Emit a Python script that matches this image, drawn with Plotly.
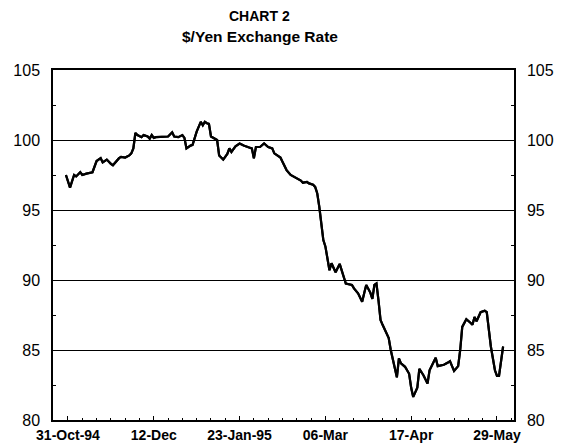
import plotly.graph_objects as go

dates = [
    "1994-10-30", "1994-11-01", "1994-11-03", "1994-11-04", "1994-11-06", "1994-11-07",
    "1994-11-09", "1994-11-12", "1994-11-14", "1994-11-16", "1994-11-17", "1994-11-19",
    "1994-11-21", "1994-11-22", "1994-11-25", "1994-11-26", "1994-11-28", "1994-11-30",
    "1994-12-01", "1994-12-02", "1994-12-03", "1994-12-04", "1994-12-06", "1994-12-07",
    "1994-12-09", "1994-12-10", "1994-12-11", "1994-12-12", "1994-12-13", "1994-12-17",
    "1994-12-19", "1994-12-21", "1994-12-22", "1994-12-24", "1994-12-26", "1994-12-27",
    "1994-12-28", "1994-12-30", "1994-12-31", "1995-01-02", "1995-01-04", "1995-01-05",
    "1995-01-06", "1995-01-07", "1995-01-08", "1995-01-09", "1995-01-11", "1995-01-12",
    "1995-01-13", "1995-01-15", "1995-01-17", "1995-01-18", "1995-01-19", "1995-01-21",
    "1995-01-23", "1995-01-25", "1995-01-28", "1995-01-29", "1995-01-30", "1995-01-31",
    "1995-02-02", "1995-02-04", "1995-02-06", "1995-02-08", "1995-02-09", "1995-02-12",
    "1995-02-13", "1995-02-15", "1995-02-17", "1995-02-19", "1995-02-22", "1995-02-23",
    "1995-02-25", "1995-02-26", "1995-02-28", "1995-03-01", "1995-03-02", "1995-03-03",
    "1995-03-04", "1995-03-05", "1995-03-06", "1995-03-07", "1995-03-08", "1995-03-09",
    "1995-03-11", "1995-03-13", "1995-03-15", "1995-03-16", "1995-03-19", "1995-03-20",
    "1995-03-22", "1995-03-24", "1995-03-25", "1995-03-26", "1995-03-28", "1995-03-29",
    "1995-03-30", "1995-03-31", "1995-04-01", "1995-04-02", "1995-04-03", "1995-04-04",
    "1995-04-05", "1995-04-06", "1995-04-07", "1995-04-09", "1995-04-10", "1995-04-11",
    "1995-04-12", "1995-04-14", "1995-04-16", "1995-04-17", "1995-04-18", "1995-04-20",
    "1995-04-21", "1995-04-23", "1995-04-25", "1995-04-26", "1995-04-28", "1995-04-29",
    "1995-04-30", "1995-05-03", "1995-05-05", "1995-05-06", "1995-05-07", "1995-05-08",
    "1995-05-10", "1995-05-11", "1995-05-12", "1995-05-14", "1995-05-16", "1995-05-17",
    "1995-05-18", "1995-05-19", "1995-05-21", "1995-05-23", "1995-05-24", "1995-05-25",
    "1995-05-26", "1995-05-28", "1995-05-29", "1995-05-30", "1995-05-31", "1995-06-01",
]

rates = [
    97.5, 96.6, 97.5, 97.4, 97.7, 97.5,
    97.6, 97.7, 98.5, 98.7, 98.4, 98.6,
    98.3, 98.2, 98.7, 98.8, 98.75, 98.9,
    99.05, 99.4, 100.5, 100.35, 100.2, 100.35,
    100.25, 100.1, 100.35, 100.15, 100.2, 100.2,
    100.25, 100.55, 100.25, 100.2, 100.35, 100.15,
    99.4, 99.6, 99.65, 100.6, 101.3, 101.05,
    101.3, 101.2, 101.15, 100.25, 100.1, 100.0,
    98.9, 98.6, 99.0, 99.4, 99.15, 99.55,
    99.75, 99.6, 99.45, 99.4, 98.7, 99.5,
    99.5, 99.75, 99.5, 99.4, 99.05, 98.75,
    98.45, 97.85, 97.5, 97.35, 97.1, 96.95,
    97.0, 96.9, 96.8, 96.65, 96.2, 95.25,
    93.8, 92.85, 92.4, 91.6, 90.7, 91.2,
    90.55, 91.15, 90.25, 89.75, 89.65, 89.4,
    89.05, 88.45, 89.05, 89.65, 89.1, 88.65,
    89.65, 89.75, 88.55, 87.15, 86.8, 86.5,
    86.2, 85.85, 85.0, 83.8, 83.05, 84.4,
    84.05, 83.8, 83.3, 82.3, 81.65, 82.3,
    83.65, 83.2, 82.6, 83.55, 84.2, 84.45,
    83.85, 83.95, 84.1, 84.2, 83.85, 83.5,
    83.85, 85.0, 86.65, 87.2, 86.95, 86.8,
    87.35, 87.05, 87.7, 87.8, 87.7, 86.65,
    85.25, 83.55, 83.15, 83.15, 84.3, 85.25,
]

tick_dates = ["1994-10-31", "1994-12-12", "1995-01-23", "1995-03-06", "1995-04-17", "1995-05-29"]
tick_labels = ["31-Oct-94", "12-Dec", "23-Jan-95", "06-Mar", "17-Apr", "29-May"]
y_ticks = [80, 85, 90, 95, 100, 105]

FONT = "Liberation Sans, Arial, sans-serif"

fig = go.Figure()
fig.add_trace(go.Scatter(
    x=dates, y=rates, mode="lines",
    line=dict(color="black", width=2.2),
    showlegend=False, hoverinfo="skip",
))
fig.add_trace(go.Scatter(
    x=dates, y=rates, mode="lines", yaxis="y2",
    line=dict(color="black", width=2.2),
    showlegend=False, hoverinfo="skip",
))

yax = dict(
    range=[80, 105], tickvals=y_ticks, ticktext=[str(v) for v in y_ticks],
    showgrid=True, gridcolor="black", gridwidth=1.3,
    showline=True, linecolor="black", linewidth=1.5,
    ticks="", ticklabelstandoff=8, automargin=False,
    tickfont=dict(family=FONT, size=16, color="black"),
    minor=dict(tickvals=[82.5, 87.5, 92.5, 97.5, 102.5], ticks="inside",
               ticklen=3, tickcolor="black", showgrid=False),
    zeroline=False, fixedrange=True,
)

# The page body adds an 8px offset, so the figure is sized to fit the window.
fig.update_layout(
    template="none",
    width=554, height=436,
    margin=dict(l=45, r=48, t=62, b=24, autoexpand=False),
    paper_bgcolor="white", plot_bgcolor="white",
    xaxis=dict(
        type="date", automargin=False,
        range=["1994-10-23 16:00", "1995-06-06 08:00"],
        tickvals=tick_dates, ticktext=tick_labels,
        ticks="inside", ticklen=4, tickcolor="black", tickwidth=1,
        showgrid=False, showline=True, linecolor="black", linewidth=1.5,
        mirror=True, zeroline=False, ticklabelstandoff=1,
        tickfont=dict(family=FONT, size=14, color="black", weight="bold"),
        minor=dict(dtick=7 * 86400000, tick0="1994-10-31", ticks="inside",
                   ticklen=2, tickcolor="black", showgrid=False),
    ),
    yaxis=dict(side="left", **yax),
    yaxis2=dict(side="right", overlaying="y", anchor="x", **yax),
    annotations=[
        dict(text="<b>CHART 2</b>", x=0.449, y=1.155, xref="paper", yref="paper",
             showarrow=False, xanchor="center", yanchor="middle",
             font=dict(family=FONT, size=14, color="black")),
        dict(text="<b>$/Yen Exchange Rate</b>", x=0.449, y=1.096, xref="paper", yref="paper",
             showarrow=False, xanchor="center", yanchor="middle",
             font=dict(family=FONT, size=15.5, color="black")),
    ],
)

fig.write_html("out.html")
